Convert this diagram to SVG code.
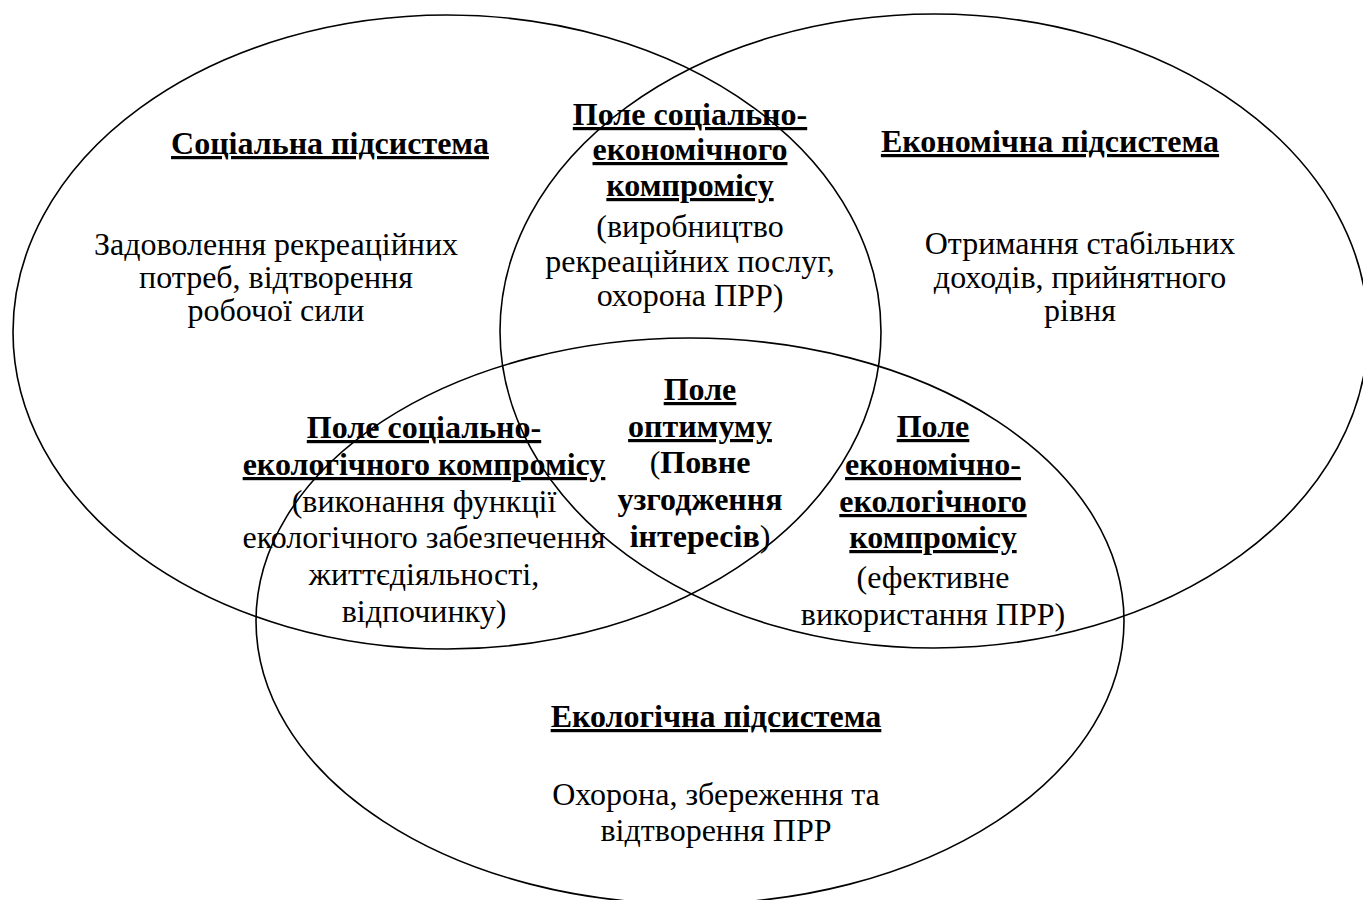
<svg xmlns="http://www.w3.org/2000/svg" width="1363" height="900" viewBox="0 0 1363 900">
<style>
text{font-family:"Liberation Serif","Times New Roman",serif;font-size:32px;fill:#000;text-anchor:middle}
.b{font-weight:bold}
.u{font-weight:bold;text-decoration:underline}
.e{fill:none;stroke:#000;stroke-width:1.6}
</style>
<rect width="1363" height="900" fill="#fff"/>
<g id="social">
<text x="330" y="154" class="u">Соціальна підсистема</text>
<text x="276" y="255">Задоволення рекреаційних</text>
<text x="276" y="288">потреб, відтворення</text>
<text x="276" y="321">робочої сили</text>
</g>
<g id="economic">
<text x="1050" y="152" class="u">Економічна підсистема</text>
<text x="1080" y="254">Отримання стабільних</text>
<text x="1080" y="288">доходів, прийнятного</text>
<text x="1080" y="321">рівня</text>
</g>
<g id="socio-economic">
<text x="690" y="125" class="u">Поле соціально-</text>
<text x="690" y="160" class="u">економічного</text>
<text x="690" y="196" class="u">компромісу</text>
<text x="690" y="237">(виробництво</text>
<text x="690" y="272">рекреаційних послуг,</text>
<text x="690" y="306">охорона ПРР)</text>
</g>
<g id="socio-ecological">
<text x="424" y="438" class="u">Поле соціально-</text>
<text x="424" y="475" class="u">екологічного компромісу</text>
<text x="424" y="512">(виконання функції</text>
<text x="424" y="548">екологічного забезпечення</text>
<text x="424" y="585">життєдіяльності,</text>
<text x="424" y="622">відпочинку)</text>
</g>
<g id="optimum">
<text x="700" y="400" class="u">Поле</text>
<text x="700" y="437" class="u">оптимуму</text>
<text x="700" y="473">(<tspan class="b">Повне</tspan></text>
<text x="700" y="510" class="b">узгодження</text>
<text x="700" y="547"><tspan class="b">інтересів</tspan>)</text>
</g>
<g id="eco-economic">
<text x="933" y="437" class="u">Поле</text>
<text x="933" y="475" class="u">економічно-</text>
<text x="933" y="512" class="u">екологічного</text>
<text x="933" y="548" class="u">компромісу</text>
<text x="933" y="588">(ефективне</text>
<text x="933" y="625">використання ПРР)</text>
</g>
<g id="ecological">
<text x="716" y="727" class="u">Екологічна підсистема</text>
<text x="716" y="805">Охорона, збереження та</text>
<text x="716" y="841">відтворення ПРР</text>
</g>
<g id="connectors">
<ellipse class="e" cx="447" cy="332" rx="434" ry="317"/>
<ellipse class="e" cx="934" cy="331" rx="434" ry="317"/>
<ellipse class="e" cx="690" cy="621" rx="434" ry="283"/>
</g>
</svg>
